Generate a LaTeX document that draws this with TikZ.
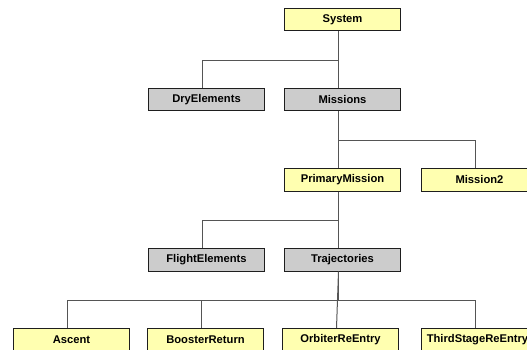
\documentclass[tikz,border=0pt]{standalone}
\usepackage{fontspec}
\setmainfont{Liberation Sans}
\definecolor{boxyellow}{RGB}{255,255,176}
\definecolor{boxgray}{RGB}{204,204,204}
\definecolor{edgedark}{RGB}{30,30,30}
\definecolor{linkgray}{RGB}{85,85,85}
\tikzset{
  treebox/.style={draw=edgedark, line width=1pt, anchor=north west,
    minimum width=116pt, minimum height=22.5pt, inner sep=0pt,
    font=\fontsize{11.2}{13}\selectfont\bfseries},
  leafbox/.style={treebox, fill=boxyellow},
  groupbox/.style={treebox, fill=boxgray},
  link/.style={draw=linkgray, line width=1pt}
}
\begin{document}
\begin{tikzpicture}[x=1pt,y=-1pt]
  \useasboundingbox[fill=white] (0,0) rectangle (527,350);

  % level 0
  \node[leafbox]  (sys)  at (284,8)   {System};
  % level 1
  \node[groupbox] (dry)  at (148,88)  {DryElements};
  \node[groupbox] (mis)  at (284,88)  {Missions};
  % level 2
  \node[leafbox]  (pm)   at (284,168) {PrimaryMission};
  \node[leafbox]  (m2)   at (421,168) {Mission2};
  % level 3
  \node[groupbox] (fe)   at (148,248) {FlightElements};
  \node[groupbox] (traj) at (284,248) {Trajectories};
  % level 4
  \node[leafbox]  (asc)  at (13,328)  {Ascent};
  \node[leafbox]  (boo)  at (147,328) {BoosterReturn};
  \node[leafbox]  (orb)  at (282,328) {OrbiterReEntry};
  \node[leafbox]  (tsr)  at (421,328) {\hspace*{-4pt}ThirdStageReEntry};

  % elbow connectors, dropped a little left of each box centre
  \begin{scope}[every path/.style={link}]
    \draw ([xshift=-4pt]sys.south) -- ++(0,29) -| ([xshift=-4pt]dry.north);
    \draw ([xshift=-4pt]sys.south) -- ([xshift=-4pt]mis.north);

    \draw ([xshift=-4pt]mis.south) -- ([xshift=-4pt]pm.north);
    \draw ([xshift=-4pt]mis.south) -- ++(0,29) -| ([xshift=-4pt]m2.north);

    \draw ([xshift=-4pt]pm.south) -- ++(0,29) -| ([xshift=-4pt]fe.north);
    \draw ([xshift=-4pt]pm.south) -- ([xshift=-4pt]traj.north);

    \draw ([xshift=-4pt]traj.south) -- ++(0,29) -| ([xshift=-4pt]asc.north);
    \draw ([xshift=-4pt]traj.south) ++(0,29) -| ([xshift=-4pt]boo.north);
    \draw ([xshift=-4pt]traj.south) -- ([xshift=-4pt]orb.north);
    \draw ([xshift=-4pt]traj.south) ++(0,29) -| ([xshift=-4pt]tsr.north);
  \end{scope}
\end{tikzpicture}
\end{document}
